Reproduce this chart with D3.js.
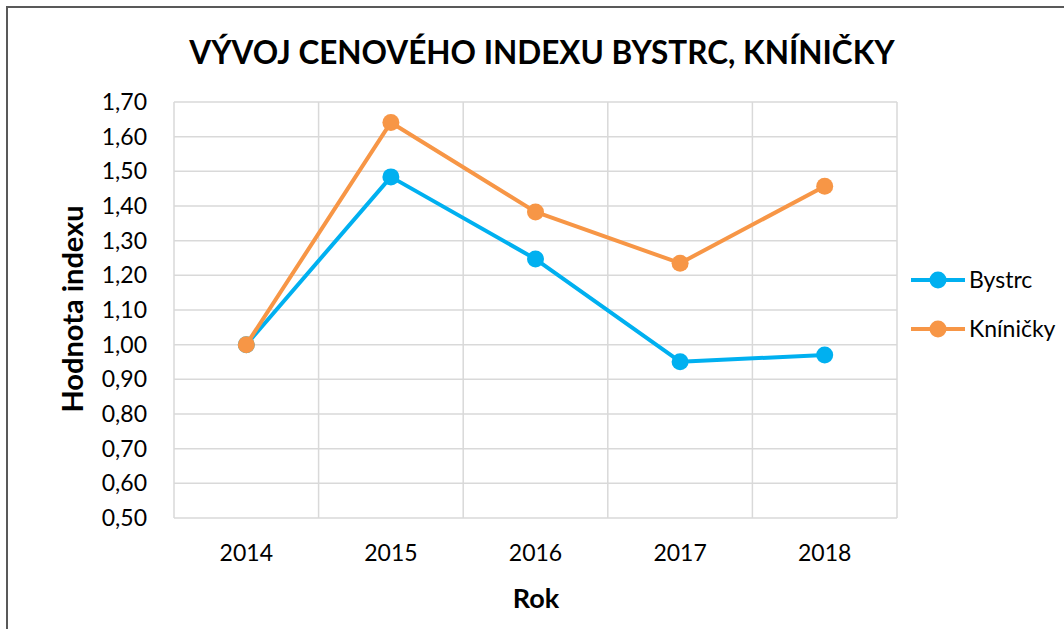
<!DOCTYPE html>
<html>
<head>
<meta charset="utf-8">
<script src="https://cdn.jsdelivr.net/npm/d3@7"></script>
<style>
  body { margin: 0; background: #fff; }
  text { font-family: Lato, "Open Sans", sans-serif; fill: #000; }
</style>
</head>
<body>
<div id="app"></div>
<script>
// data
let years = ["2014", "2015", "2016", "2017", "2018"]
let bystrc = [1.00, 1.484, 1.247, 0.951, 0.970]
let kninicky = [1.00, 1.641, 1.383, 1.235, 1.457]
let yTicks = [0.5, 0.6, 0.7, 0.8, 0.9, 1.0, 1.1, 1.2, 1.3, 1.4, 1.5, 1.6, 1.7]

let series = [
  {name: "Bystrc", values: bystrc, color: "#00B0F0"},
  {name: "Kníničky", values: kninicky, color: "#F79646"}
]

let width = 1064, height = 629
let margin = {top: 102, right: 167, bottom: 111, left: 174}

let svg = d3.select("#app").append("svg")
    .attr("width", width)
    .attr("height", height)

// chart border
svg.append("rect")
    .attr("x", 7).attr("y", 7)
    .attr("width", width + 10).attr("height", height + 10)
    .attr("fill", "none")
    .attr("stroke", "#595959")
    .attr("stroke-width", 2)

let x = d3.scaleBand()
    .domain(years)
    .range([margin.left, width - margin.right])

let y = d3.scaleLinear()
    .domain([0.5, 1.7])
    .range([height - margin.bottom, margin.top])

let fmt = v => d3.format(".2f")(v).replace(".", ",")

// gridlines
let grid = svg.append("g").attr("stroke", "#d9d9d9").attr("stroke-width", 1.5)
grid.selectAll(".h").data(yTicks).enter().append("line")
    .attr("x1", margin.left).attr("x2", width - margin.right)
    .attr("y1", d => y(d)).attr("y2", d => y(d))
let vx = years.map(d => x(d)).concat([x(years[years.length - 1]) + x.bandwidth()])
grid.selectAll(".v").data(vx).enter().append("line")
    .attr("x1", d => d).attr("x2", d => d)
    .attr("y1", margin.top).attr("y2", height - margin.bottom)

// axes
let yAxis = svg.append("g")
    .attr("transform", "translate(" + margin.left + ",0)")
    .call(d3.axisLeft(y).tickValues(yTicks).tickFormat(fmt).tickSize(0).tickPadding(27))
yAxis.select(".domain").remove()
yAxis.selectAll("text").style("font-size", "23px").attr("font-family", null)

let xAxis = svg.append("g")
    .attr("transform", "translate(0," + (height - margin.bottom) + ")")
    .call(d3.axisBottom(x).tickSize(0).tickPadding(27))
xAxis.select(".domain").remove()
xAxis.selectAll("text").style("font-size", "23px").attr("font-family", null)

// lines + markers
let line = d3.line()
    .x((d, i) => x(years[i]) + x.bandwidth() / 2)
    .y(d => y(d))

series.forEach(s => {
  svg.append("path")
      .datum(s.values)
      .attr("d", line)
      .attr("fill", "none")
      .attr("stroke", s.color)
      .attr("stroke-width", 4)
      .attr("stroke-linejoin", "round")
  svg.selectAll(null).data(s.values).enter().append("circle")
      .attr("cx", (d, i) => x(years[i]) + x.bandwidth() / 2)
      .attr("cy", d => y(d))
      .attr("r", 8.5)
      .attr("fill", s.color)
})

// titles
svg.append("text")
    .attr("x", 542).attr("y", 64)
    .attr("text-anchor", "middle")
    .style("font-size", "31.5px").style("font-weight", "bold")
    .text("VÝVOJ CENOVÉHO INDEXU BYSTRC, KNÍNIČKY")

svg.append("text")
    .attr("x", 536).attr("y", 608)
    .attr("text-anchor", "middle")
    .style("font-size", "27px").style("font-weight", "bold")
    .text("Rok")

svg.append("text")
    .attr("transform", "translate(83,309) rotate(-90)")
    .attr("text-anchor", "middle")
    .style("font-size", "29px").style("font-weight", "bold")
    .text("Hodnota indexu")

// legend
let legend = svg.append("g")
let li = legend.selectAll("g").data(series).enter().append("g")
    .attr("transform", (d, i) => "translate(911," + (280 + i * 49) + ")")
li.append("line")
    .attr("x1", 0).attr("x2", 54)
    .attr("stroke", d => d.color).attr("stroke-width", 4)
li.append("circle")
    .attr("cx", 27).attr("r", 8.5)
    .attr("fill", d => d.color)
li.append("text")
    .attr("x", 58).attr("dy", "0.35em")
    .style("font-size", "23px")
    .text(d => d.name)
</script>
</body>
</html>
